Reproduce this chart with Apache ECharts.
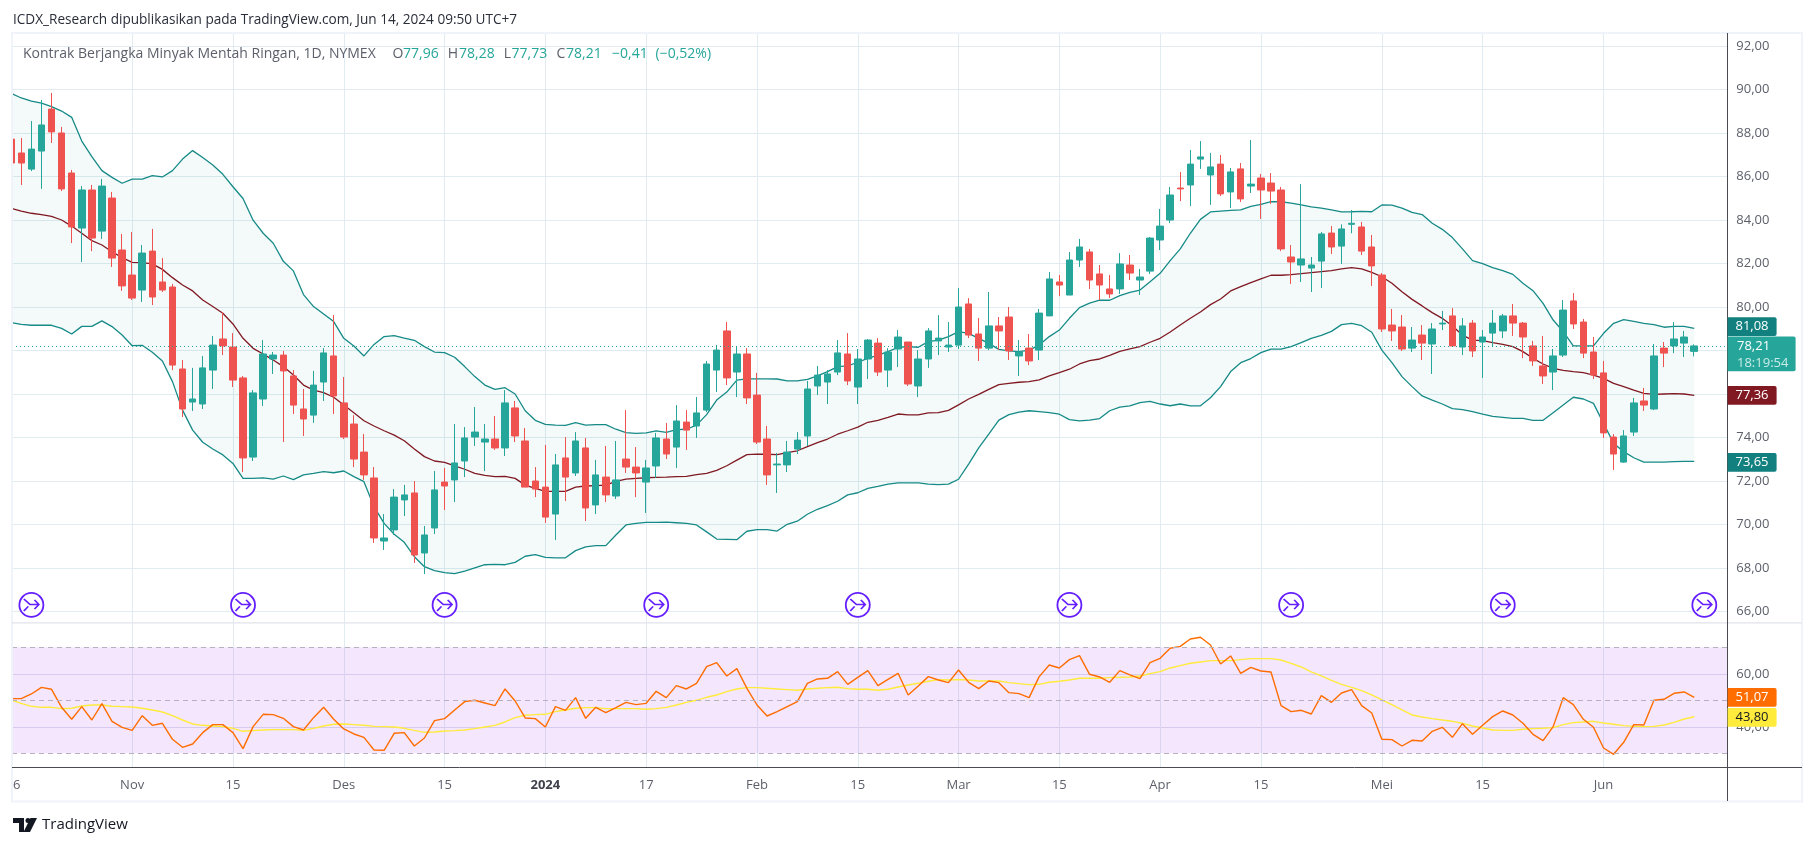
<!DOCTYPE html>
<html><head><meta charset="utf-8">
<style>html,body{margin:0;padding:0;background:#fff;overflow:hidden}#c{width:1815px;height:846px}</style>
<script src="https://cdn.jsdelivr.net/npm/echarts@6/dist/echarts.min.js"></script>
</head><body><div id="c"></div>
<script>
const opens=[87.72,87.08,86.34,87.17,89.10,88.0,86.16,83.63,85.38,83.49,85.01,82.62,81.47,80.78,82.57,81.15,80.92,77.15,75.63,75.54,
77.1,78.53,78.16,76.74,73.10,75.77,77.61,77.79,76.83,75.31,75.03,76.55,77.75,75.59,74.62,73.33,72.14,69.24,69.75,71.13,
71.45,68.69,69.84,71.95,72.05,72.92,74.02,73.79,73.93,73.52,75.36,73.84,72.0,71.72,70.48,73.06,72.37,73.52,70.9,72.18,
71.31,73.01,72.64,71.95,72.69,73.93,73.56,74.71,74.53,75.26,77.1,78.9,77.01,77.84,75.95,73.93,72.74,72.74,73.47,74.07,
76.37,76.55,77.01,77.84,76.32,77.61,78.34,77.1,78.07,78.39,76.37,77.61,78.44,78.16,78.25,80.14,78.76,78.11,79.13,79.54,
77.75,78.11,78.02,79.59,81.15,80.55,82.16,82.53,81.52,80.83,80.83,81.93,81.24,81.65,83.08,84.0,85.47,85.61,86.8,86.07,
86.57,85.29,86.35,85.56,85.93,85.7,85.38,82.3,81.93,81.79,82.11,83.4,82.8,83.8,83.68,82.76,81.47,79.17,79.08,78.11,
78.71,78.3,79.22,79.59,78.16,79.26,78.39,78.8,78.9,79.59,79.26,78.21,77.29,77.01,77.79,80.28,79.31,77.93,76.97,74.02,
72.87,74.25,75.68,75.31,78.11,78.21,78.34,77.96];
const highs=[88.0,87.77,88.55,89.52,89.84,88.28,86.3,85.56,85.61,85.89,85.29,83.36,83.45,82.85,83.59,82.25,81.06,77.56,77.2,77.75,
78.67,79.77,78.8,76.83,76.18,78.48,77.93,77.98,77.1,76.23,77.06,78.11,79.63,76.78,75.03,74.16,72.64,70.48,71.63,71.82,
72.0,69.93,72.46,72.6,74.62,74.48,75.4,74.62,74.99,76.18,75.68,74.44,72.64,73.66,73.24,74.02,74.25,73.98,72.97,73.61,
73.84,75.26,73.56,72.97,74.21,74.67,75.49,75.26,75.86,77.52,78.25,79.31,78.21,78.11,76.97,74.53,73.29,73.84,74.25,76.6,
77.29,77.1,78.48,78.8,78.07,78.53,78.57,78.11,78.94,78.39,78.02,79.03,79.63,79.31,80.87,80.41,79.49,80.69,79.54,80.0,
78.48,78.76,79.91,81.61,81.47,82.53,83.13,82.67,81.93,81.47,82.48,82.39,81.75,83.22,84.51,85.52,86.21,87.22,87.63,87.08,
86.99,86.39,86.62,87.68,86.12,86.16,85.52,82.85,85.65,82.3,83.45,83.72,83.8,84.46,83.91,83.31,81.56,79.91,79.63,79.08,
79.17,79.26,79.82,79.95,79.49,79.4,78.94,79.86,79.68,80.14,79.31,78.44,78.67,78.07,80.32,80.64,79.45,78.62,77.52,74.16,
74.34,75.82,76.28,78.3,78.39,79.31,78.9,78.28];
const lows=[86.3,85.61,86.25,85.43,87.54,85.33,82.94,82.07,82.57,83.13,81.84,80.74,80.32,80.23,80.09,80.69,77.10,74.94,75.22,75.31,
76.23,77.79,76.32,72.41,72.92,75.45,76.92,73.79,75.08,74.07,74.67,75.68,75.08,73.93,72.64,72.05,69.15,68.83,69.52,70.39,
68.23,67.72,69.56,70.67,71.03,72.18,73.61,72.46,73.43,73.15,73.79,71.72,71.26,70.07,69.29,71.08,72.23,70.16,70.48,71.03,
71.17,72.37,71.26,70.53,72.14,73.01,72.6,73.43,73.98,75.17,76.09,76.41,75.86,75.54,73.7,71.82,71.45,72.41,73.24,73.61,
75.95,75.54,76.87,76.41,75.54,76.69,76.83,76.32,77.24,76.37,75.86,77.2,77.79,77.93,78.07,78.57,77.52,78.02,78.02,77.56,
76.83,77.33,77.56,79.59,80.5,80.55,81.84,80.83,80.32,80.41,80.6,81.24,80.55,81.52,82.62,83.86,84.87,84.64,86.35,84.69,
85.1,84.55,84.83,85.24,84.05,84.74,82.57,81.06,81.15,80.69,80.87,82.44,81.98,83.39,82.39,80.97,78.85,78.44,77.98,77.93,
77.56,76.92,78.94,78.21,77.79,77.7,76.74,78.16,78.57,78.67,77.65,77.29,76.46,76.18,77.7,78.99,77.65,76.69,73.98,72.51,
72.83,74.07,75.22,75.26,77.24,77.88,77.7,77.73];
const closes=[86.62,86.62,87.26,88.37,88.05,85.43,83.68,85.38,83.17,85.56,82.25,80.97,80.41,82.48,80.46,80.78,77.33,75.31,75.77,77.2,
78.25,78.21,76.64,73.06,76.05,77.84,77.79,77.06,75.49,74.85,76.41,77.89,75.91,74.02,73.01,72.28,69.38,69.38,71.26,71.36,
68.6,69.52,71.59,71.77,72.83,73.98,74.25,73.93,73.52,75.59,74.07,71.72,71.63,70.34,72.74,72.18,73.84,70.76,72.28,71.36,
72.05,72.64,72.37,72.6,73.98,73.24,74.76,74.34,75.13,77.38,78.02,76.74,77.84,75.82,73.79,72.28,72.78,73.33,73.88,76.23,
76.87,76.92,77.89,76.6,77.61,78.48,77.01,77.93,78.62,76.46,77.61,78.9,78.57,78.25,80.0,78.71,78.11,79.13,78.9,77.98,
77.93,77.52,79.72,81.29,81.01,82.16,82.76,81.24,81.01,80.6,81.98,81.56,81.38,83.17,83.72,85.15,85.43,86.57,86.9,86.44,
85.2,86.21,84.97,85.65,85.38,85.33,82.67,82.07,82.21,81.93,83.36,82.76,83.59,83.85,82.57,81.89,78.99,78.9,78.07,78.48,
78.34,78.99,79.26,78.21,79.13,77.98,78.62,79.26,79.59,79.26,78.62,77.52,76.83,77.75,79.86,79.22,77.88,76.87,74.21,73.24,
74.07,75.59,75.49,77.75,77.88,78.53,78.62,78.21];

// Bollinger bands as plotted against the price scale
const bandUpper=[89.82,89.61,89.47,89.37,89.21,89.01,88.72,87.63,86.91,86.27,85.96,85.69,85.88,85.88,86.04,85.98,86.27,86.8,87.19,86.87,
86.53,86.1,85.53,84.99,83.99,83.39,82.93,82.1,81.66,80.57,80.02,79.68,79.33,78.56,78.21,77.75,78.28,78.64,78.68,78.57,
78.47,78.18,77.93,77.9,77.69,77.26,76.8,76.41,76.21,76.29,76.0,75.23,74.79,74.6,74.57,74.56,74.68,74.57,74.59,74.59,
74.38,74.22,74.19,74.21,74.3,74.24,74.36,74.38,74.57,75.05,75.72,76.09,76.64,76.7,76.7,76.7,76.69,76.6,76.6,76.67,
76.83,77.03,77.26,77.29,77.46,77.64,77.79,77.95,78.15,78.18,78.15,78.41,78.48,78.64,78.87,78.79,78.56,78.33,78.05,77.98,
77.95,78.02,78.25,78.64,78.94,79.48,79.97,80.18,80.32,80.31,80.52,80.67,80.78,81.16,81.55,82.13,82.67,83.39,84.03,84.37,
84.41,84.44,84.47,84.63,84.72,84.84,84.84,84.78,84.7,84.6,84.55,84.47,84.37,84.38,84.4,84.38,84.69,84.68,84.55,84.35,
84.25,83.85,83.57,83.19,82.67,82.13,81.99,81.81,81.67,81.5,81.09,80.75,80.17,79.4,78.87,78.21,78.21,78.21,78.79,79.25,
79.42,79.34,79.25,79.19,79.07,79.11,79.11,79.02];
const bandBasis=[84.54,84.41,84.31,84.25,84.17,84.0,83.72,83.39,83.05,82.85,82.54,82.27,82.05,82.04,81.98,81.73,81.35,81.01,80.74,80.32,
80.02,79.71,79.22,78.56,78.1,77.84,77.56,77.26,76.87,76.41,76.18,76.06,75.85,75.49,75.14,74.77,74.53,74.31,74.11,73.85,
73.47,73.12,72.92,72.86,72.7,72.54,72.35,72.26,72.2,72.21,72.12,71.81,71.66,71.52,71.52,71.52,71.72,71.77,71.79,71.81,
71.98,72.09,72.12,72.15,72.17,72.18,72.2,72.21,72.29,72.35,72.49,72.7,72.96,73.21,73.24,73.23,73.21,73.3,73.39,73.58,
73.76,73.93,74.15,74.31,74.48,74.7,74.79,74.93,75.08,75.04,75.04,75.13,75.14,75.25,75.5,75.77,75.98,76.21,76.43,76.49,
76.54,76.57,76.65,76.83,76.98,77.14,77.38,77.53,77.61,77.78,77.96,78.07,78.18,78.38,78.56,78.85,79.17,79.48,79.77,80.11,
80.37,80.74,80.94,81.12,81.29,81.46,81.46,81.49,81.53,81.58,81.63,81.67,81.75,81.81,81.75,81.59,81.39,81.09,80.7,80.35,
80.05,79.74,79.48,79.13,78.71,78.48,78.45,78.36,78.28,78.18,77.95,77.64,77.38,77.18,77.09,77.03,76.98,76.87,76.72,76.49,
76.34,76.18,76.03,75.98,76.0,76.02,76.0,75.94];
const bandLower=[79.28,79.2,79.16,79.16,79.16,79.02,78.76,79.11,79.11,79.36,79.1,78.71,78.22,78.24,77.92,77.52,76.57,75.26,74.34,73.78,
73.47,73.2,72.81,72.12,72.12,72.14,72.09,72.23,72.06,72.28,72.35,72.43,72.38,72.46,72.2,71.97,70.82,70.05,69.55,69.18,
68.52,68.06,67.88,67.79,67.74,67.86,68.01,68.15,68.17,68.15,68.26,68.54,68.61,68.49,68.47,68.47,68.8,68.97,69.03,69.03,
69.52,69.98,70.05,70.1,70.1,70.11,70.08,70.05,69.98,69.66,69.33,69.32,69.3,69.69,69.76,69.76,69.7,70.01,70.15,70.47,
70.7,70.87,71.07,71.36,71.46,71.66,71.75,71.86,71.91,71.91,71.91,71.86,71.83,71.86,72.08,72.78,73.52,74.15,74.8,75.05,
75.17,75.23,75.19,75.14,75.07,74.82,74.76,74.8,74.87,75.23,75.4,75.45,75.6,75.66,75.54,75.46,75.54,75.45,75.46,75.83,
76.34,77.03,77.44,77.63,77.9,78.06,78.06,78.18,78.36,78.56,78.7,78.88,79.19,79.25,79.14,78.84,78.02,77.44,76.8,76.34,
75.91,75.72,75.54,75.33,75.28,75.19,75.07,74.97,74.93,74.88,74.88,74.79,74.79,75.14,75.49,75.85,75.77,75.57,74.65,73.73,
73.35,73.07,72.87,72.87,72.87,72.89,72.9,72.9];

const rsiValues=[50.62,50.62,52.39,54.9,54.15,47.35,42.83,47.61,42.57,48.74,42.07,39.81,38.67,44.21,40.56,41.32,35.28,32.26,33.52,37.79,
40.81,40.81,37.79,31.76,40.06,44.71,44.59,43.2,40.06,38.8,43.45,47.35,42.83,39.18,37.29,36.03,31.25,31.13,37.54,37.79,
32.76,35.78,42.32,43.08,46.35,49.49,50.0,48.99,47.98,54.27,49.74,43.33,43.08,39.93,47.61,46.22,51.0,43.2,47.35,45.34,
47.23,49.24,48.36,48.86,53.39,51.0,55.53,54.27,56.41,62.7,64.21,59.18,61.95,54.52,48.23,44.08,45.72,47.61,49.49,56.41,
58.05,58.3,60.81,56.03,58.67,61.19,55.53,57.92,60.18,52.01,55.4,58.93,57.67,56.66,61.44,56.79,54.4,57.29,56.66,52.89,
52.51,51.0,58.93,63.33,62.2,65.34,66.85,59.81,58.8,56.79,61.19,59.56,58.17,64.21,65.84,69.62,70.37,73.14,73.77,70.88,
63.71,66.73,60.18,62.45,61.06,60.69,47.98,45.72,46.22,44.84,51.76,49.24,52.76,54.02,47.98,45.22,35.28,35.15,32.76,34.9,
34.65,38.3,39.81,36.03,41.19,37.17,40.56,43.83,45.97,44.46,41.32,37.17,34.78,40.06,51.0,48.36,42.83,39.81,32.01,29.62,
34.15,40.81,40.69,50.0,50.37,52.64,53.14,51.07];
const rsiAverage=[50.12,48.86,47.73,47.35,47.35,46.85,46.98,47.86,48.23,48.23,47.73,47.61,47.48,46.98,46.35,45.59,44.21,42.57,41.07,40.56,
40.31,40.06,39.43,38.3,38.55,38.8,38.93,38.93,38.93,38.67,39.43,40.31,40.94,41.07,40.81,40.56,40.18,40.06,39.93,39.43,
38.67,37.92,38.05,38.42,38.55,38.8,39.3,39.93,40.56,41.82,43.45,44.34,44.59,44.71,45.72,46.35,46.98,47.23,47.23,46.85,
46.85,46.85,46.85,46.6,46.85,47.35,48.23,49.24,50.0,51.13,52.01,53.27,54.27,54.78,54.78,54.52,54.27,54.02,53.77,54.27,
54.52,54.78,54.9,54.4,54.15,54.15,53.77,54.15,55.03,55.78,56.41,57.17,57.79,57.67,57.79,57.67,57.29,57.29,57.29,56.66,
56.28,55.91,56.03,56.79,57.17,57.67,58.3,58.3,58.3,58.55,58.67,58.8,59.18,60.06,60.81,62.2,63.08,63.96,64.46,64.96,
64.96,64.96,65.34,65.72,65.72,65.72,65.22,63.96,62.57,60.69,59.18,57.54,56.03,54.9,53.64,52.01,50.12,48.36,46.35,44.46,
43.71,43.08,42.57,42.07,41.32,40.31,39.56,38.8,38.67,38.67,39.05,39.3,39.43,39.68,40.81,41.57,41.82,42.07,41.44,40.94,
40.44,40.18,40.06,40.18,40.69,41.69,42.95,43.8];

const timeTickBars=[12,22,33,43,53,63,74,84,94,104,114,124,136,146,158];
const timeTickLabels=['Nov','15','Des','15','2024','17','Feb','15','Mar','15','Apr','15','Mei','15','Jun'];
const priceTicks=[66,68,70,72,74,76,78,80,82,84,86,88,90,92];
const rsiTicks=[40,60];
const rsiLevels=[70,50,30];
const rolloverBars=[2,23,43,64,84,105,127,148,168];
const rolloverLevel=[66.3];
const lastPrice=78.21;
const endLabels={upper:'81,08',last:'78,21',countdown:'18:19:54',basis:'77,36',lower:'73,65',rsi:'51,07',rsiMa:'43,80'};

const FONT='"Open Sans"';
const fmt=v=>v.toFixed(2).replace('.',',');
const paired=a=>a.map((v,i)=>[i,v]);
const xRange={min:0.0772,max:170.28};
const xAxisBase=()=>({type:'value',...xRange,axisLine:{show:false},
  axisTick:{show:false,customValues:timeTickBars},
  splitLine:{show:true,lineStyle:{color:'#e1ebf2',width:1}}});

const chart=echarts.init(document.getElementById('c'),null,{renderer:'canvas'});
chart.setOption({
  animation:false,
  backgroundColor:'#fff',
  grid:[{left:12,right:87.7,top:33.5,height:589.2},{left:12,right:87.7,top:622.7,height:144.6}],
  xAxis:[
    {...xAxisBase(),gridIndex:0,axisLabel:{show:false,customValues:timeTickBars}},
    {...xAxisBase(),gridIndex:1,axisLabel:{show:true,customValues:timeTickBars,margin:11,hideOverlap:false,
      fontFamily:FONT,fontSize:13,color:'#5d606b',
      formatter:v=>{const s=timeTickLabels[timeTickBars.indexOf(v)];return s==='2024'?'{b|2024}':s;},
      rich:{b:{fontFamily:FONT,fontSize:13,fontWeight:'bold',color:'#3f424d'}}}}
  ],
  yAxis:[
    {type:'value',gridIndex:0,position:'right',min:65.485,max:92.575,scale:true,axisLine:{show:false},
     axisTick:{show:false,customValues:priceTicks},
     axisLabel:{customValues:priceTicks,margin:9,align:'left',fontFamily:FONT,fontSize:13,color:'#5d606b',formatter:fmt},
     splitLine:{show:true,lineStyle:{color:'#e1ebf2',width:1}}},
    {type:'value',gridIndex:1,position:'right',min:24.72,max:79.28,scale:true,axisLine:{show:false},
     axisTick:{show:false,customValues:rsiTicks},
     axisLabel:{customValues:rsiTicks,margin:9,align:'left',fontFamily:FONT,fontSize:13,color:'#5d606b',formatter:fmt},
     splitLine:{show:true,lineStyle:{color:'#dfe1ee',width:1}}}
  ],
  series:[
    {type:'custom',name:'bandFill',coordinateSystem:'cartesian2d',clip:true,z:1,silent:true,
     encode:{x:0,y:1},data:[[1,bandLower[1]]],
     renderItem:(params,api)=>{
       const top=bandUpper.map((v,i)=>api.coord([i,v]));
       const bottom=bandLower.map((v,i)=>api.coord([i,v])).reverse();
       return {type:'polygon',shape:{points:top.concat(bottom)},style:{fill:'rgba(38,166,154,0.055)'}};
     }},
    {type:'line',name:'upper',data:paired(bandUpper),symbol:'none',lineStyle:{color:'#168a87',width:1.3},z:2},
    {type:'line',name:'lower',data:paired(bandLower),symbol:'none',lineStyle:{color:'#168a87',width:1.3},z:2},
    {type:'line',name:'basis',data:paired(bandBasis),symbol:'none',lineStyle:{color:'#801922',width:1.3},z:2},
    {type:'candlestick',name:'CL',barWidth:7,z:3,
     encode:{x:0,y:[1,2,3,4]},
     data:opens.map((o,i)=>[i,o,closes[i],lows[i],highs[i]]),
     itemStyle:{color:'#26a69a',color0:'#ef5350',borderColor:'#26a69a',borderColor0:'#ef5350',borderWidth:1},
     markLine:{silent:true,symbol:'none',label:{show:false},
       lineStyle:{color:'#26a69a',type:[1,3],width:1},data:[{yAxis:lastPrice}]}},
    {type:'scatter',name:'rolloverRing',data:rolloverBars.map(b=>[b,rolloverLevel[0]]),symbol:'circle',symbolSize:24,z:4,silent:true,
     itemStyle:{color:'#fff',borderColor:'#651fff',borderWidth:1.8,opacity:1}},
    {type:'scatter',name:'rolloverArrow',data:rolloverBars.map(b=>[b,rolloverLevel[0]]),z:5,silent:true,
     symbol:'path://M2 3 L9 9 L19 9 M14 4 L19 9 L14 14 M2 16 L7 11',symbolSize:[15,12],
     itemStyle:{color:'none',borderColor:'#651fff',borderWidth:1.6,opacity:1}},
    {type:'line',name:'RSI MA',xAxisIndex:1,yAxisIndex:1,data:paired(rsiAverage),symbol:'none',lineStyle:{color:'#ffeb3b',width:1.4},z:3,
     markArea:{silent:true,itemStyle:{color:'rgba(145,5,235,0.1)'},data:[[{yAxis:rsiLevels[0]},{yAxis:rsiLevels[2]}]]}},
    {type:'line',name:'RSI',xAxisIndex:1,yAxisIndex:1,data:paired(rsiValues),symbol:'none',lineStyle:{color:'#ff6d00',width:1.4},z:4,
     markLine:{silent:true,symbol:'none',label:{show:false},lineStyle:{color:'#b6b2bd',type:[5,4],width:1},
       data:rsiLevels.map(v=>({yAxis:v}))}}
  ]
});

const py=v=>chart.convertToPixel({yAxisIndex:0},v);
const ry=v=>chart.convertToPixel({yAxisIndex:1},v);
const box=(cy,fill,txt,col)=>[
  {type:'rect',z:50,shape:{x:1727.6,y:cy-9.4,width:49,height:18.8,r:[0,2,2,0]},style:{fill}},
  {type:'text',z:51,style:{x:1752,y:cy,text:txt,fill:col||'#fff',font:'13px '+FONT,textAlign:'center',textVerticalAlign:'middle'}}
];
const legendY=54;
const legendBits=[
  [23,'Kontrak Berjangka Minyak Mentah Ringan, 1D, NYMEX','#5d606b'],
  [392.6,'O','#5d606b'],[403,'77,96','#26a69a'],
  [447.7,'H','#5d606b'],[459,'78,28','#26a69a'],
  [503.7,'L','#5d606b'],[511.5,'77,73','#26a69a'],
  [556.5,'C','#5d606b'],[566,'78,21','#26a69a'],
  [612,'−0,41','#26a69a'],[655.6,'(−0,52%)','#26a69a']
];
const hline=(x1,x2,y,c,w)=>({type:'line',z:40,shape:{x1,y1:y,x2,y2:y},style:{stroke:c,lineWidth:w||1}});
const vline=(x,y1,y2,c,w)=>({type:'line',z:40,shape:{x1:x,y1,x2:x,y2},style:{stroke:c,lineWidth:w||1}});
chart.setOption({graphic:{elements:[
  {type:'rect',z:38,shape:{x:0,y:24,width:11.5,height:790},style:{fill:'#fff'}},
  {type:'rect',z:39,shape:{x:12,y:33,width:1790,height:768.5},style:{fill:'none',stroke:'#f0f3fa',lineWidth:2}},
  hline(12,1802,622.9,'#e0e3eb',1.2),
  hline(12,1802,767.5,'#4a4a50',1),
  vline(1727.5,33,801,'#4a4a50',1),
  {type:'text',z:45,style:{x:13,y:20,text:'ICDX_Research dipublikasikan pada TradingView.com, Jun 14, 2024 09:50 UTC+7',fill:'#2a2e39',font:'13.6px '+FONT,textVerticalAlign:'middle'}},
  ...legendBits.map(([x,t,c])=>({type:'text',z:45,style:{x,y:legendY,text:t,fill:c,font:'14px '+FONT,textVerticalAlign:'middle'}})),
  {type:'text',z:45,style:{x:13,y:785,text:'6',fill:'#5d606b',font:'13px '+FONT,textVerticalAlign:'middle'}},
  // TradingView wordmark
  {type:'polygon',z:45,shape:{points:[[13,818],[24,818],[24,832],[19,832],[19,823],[13,823]]},style:{fill:'#131722'}},
  {type:'polygon',z:45,shape:{points:[[30.5,818],[37,818],[30,832],[23.5,832]]},style:{fill:'#131722'}},
  {type:'circle',z:45,shape:{cx:28,cy:820.5,r:2.5},style:{fill:'#131722'}},
  {type:'text',z:45,style:{x:42,y:825,text:'TradingView',fill:'#131722',font:'15px '+FONT,textVerticalAlign:'middle'}},
  ...box(py(bandUpper[167])-1.6,'#12807f',endLabels.upper),
  {type:'rect',z:50,shape:{x:1727.6,y:py(lastPrice)-9.4,width:68,height:34.7,r:[0,2,2,0]},style:{fill:'#26a69a'}},
  {type:'text',z:51,style:{x:1737,y:py(lastPrice),text:endLabels.last,fill:'#fff',font:'13px '+FONT,textVerticalAlign:'middle'}},
  {type:'text',z:51,style:{x:1737,y:py(lastPrice)+17,text:endLabels.countdown,fill:'#c9ebe7',font:'13px '+FONT,textVerticalAlign:'middle'}},
  ...box(py(bandBasis[167]),'#801922',endLabels.basis),
  ...box(py(bandLower[167])+1,'#12807f',endLabels.lower),
  ...box(ry(rsiValues[167]),'#ff6d00',endLabels.rsi),
  ...box(ry(rsiAverage[167])+0.6,'#ffeb3b',endLabels.rsiMa,'#131722')
]}});
</script></body></html>
